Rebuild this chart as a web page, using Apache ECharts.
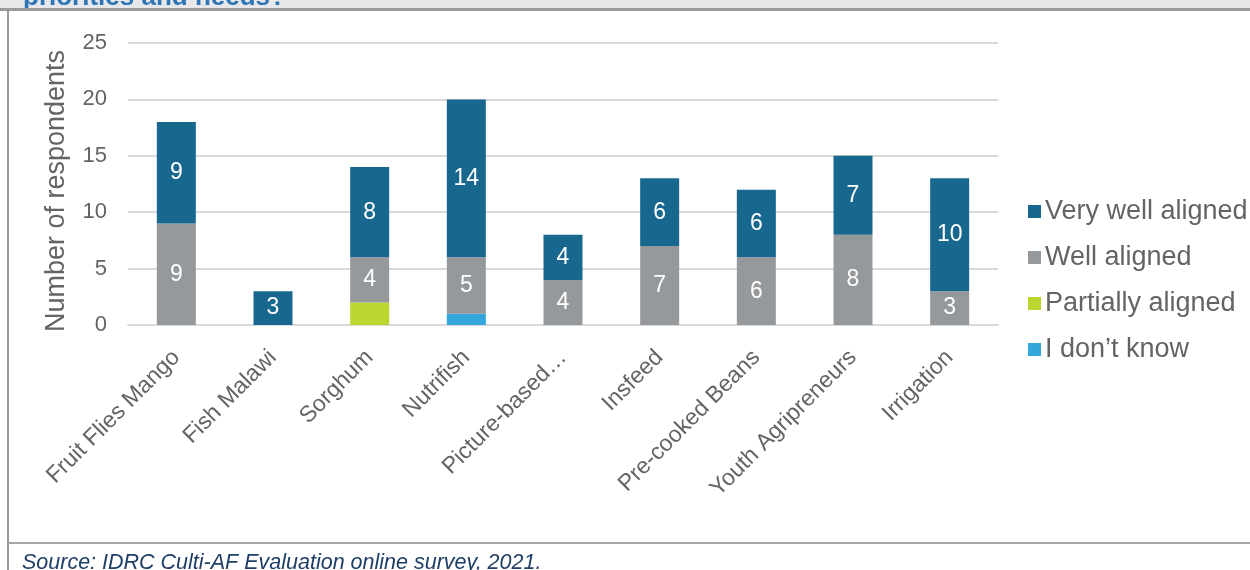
<!DOCTYPE html>
<html>
<head>
<meta charset="utf-8">
<script src="https://cdn.jsdelivr.net/npm/echarts@6/dist/echarts.min.js"></script>
<style>
  html, body { margin: 0; padding: 0; background: #fff; }
  #chart { width: 1250px; height: 570px; }
</style>
</head>
<body>
<div id="chart"></div>
<script>
// Projects surveyed
const categories = ['Fruit Flies Mango', 'Fish Malawi', 'Sorghum', 'Nutrifish', 'Picture-based\u2026',
  'Insfeed', 'Pre-cooked Beans', 'Youth Agripreneurs', 'Irrigation'];

// Respondents per alignment rating
const veryWell   = [9, 3, 8, 14, 4, 6, 6, 7, 10];
const well       = [9, 0, 4, 5, 4, 7, 6, 8, 3];
const partially  = [0, 0, 2, 0, 0, 0, 0, 0, 0];
const dontKnow   = [0, 0, 0, 1, 0, 0, 0, 0, 0];

const yTicks = [0, 5, 10, 15, 20, 25];

const FONT = '"Liberation Sans", Arial, sans-serif';
const TEXT = '#646464';

const chart = echarts.init(document.getElementById('chart'));

function seg(name, data, color, showLabel) {
  return {
    name: name,
    type: 'bar',
    stack: 'total',
    barWidth: 39,
    data: data.map(v => (v === 0 ? null : v)),
    itemStyle: { color: color },
    label: {
      show: showLabel,
      position: 'inside',
      color: '#fff',
      fontSize: 23,
      fontFamily: FONT
    },
    emphasis: { disabled: true }
  };
}

chart.setOption({
  animation: false,
  textStyle: { fontFamily: FONT },
  grid: { left: 128, right: 252, top: 43, bottom: 245, containLabel: false },
  legend: {
    orient: 'vertical',
    left: 1028,
    top: 198,
    padding: 0,
    itemWidth: 13,
    itemHeight: 13,
    itemGap: 19,
    icon: 'rect',
    data: ['Very well aligned', 'Well aligned', 'Partially aligned', 'I don\u2019t know'],
    textStyle: { color: TEXT, fontSize: 27, fontFamily: FONT, padding: [0, 0, 0, -1] }
  },
  xAxis: {
    type: 'category',
    data: categories,
    axisLine: { lineStyle: { color: '#d9d9d9', width: 2 } },
    axisTick: { show: false },
    axisLabel: {
      rotate: 45,
      interval: 0,
      color: TEXT,
      fontSize: 23,
      fontFamily: FONT,
      margin: 29
    }
  },
  yAxis: {
    type: 'value',
    min: yTicks[0],
    max: yTicks[yTicks.length - 1],
    interval: 5,
    name: 'Number of respondents',
    nameLocation: 'middle',
    nameGap: 58,
    nameTextStyle: { color: TEXT, fontSize: 27, fontFamily: FONT, padding: [0, 14, 0, 0] },
    axisLine: { show: false },
    axisTick: { show: false },
    axisLabel: { color: TEXT, fontSize: 22, fontFamily: FONT, margin: 21 },
    splitLine: { lineStyle: { color: '#d9d9d9', width: 2 } }
  },
  series: [
    seg('I don\u2019t know', dontKnow, '#33a6dc', false),
    seg('Partially aligned', partially, '#bcd630', false),
    seg('Well aligned', well, '#96999c', true),
    seg('Very well aligned', veryWell, '#18678f', true)
  ],
  graphic: [
    // header band with the tail of the heading, then the frame
    { type: 'rect', shape: { x: 0, y: 0, width: 1250, height: 8 }, style: { fill: '#e8e8ea' }, silent: true, z: 100 },
    { type: 'text', x: 23, y: -2, style: { text: 'priorities and needs?', fill: '#2e75b6',
        verticalAlign: 'middle', font: 'bold 26px "Liberation Sans", Arial, sans-serif' }, silent: true, z: 101 },
    { type: 'rect', shape: { x: 0, y: 11, width: 1250, height: 20 }, style: { fill: '#ffffff' }, silent: true, z: 102 },
    { type: 'rect', shape: { x: 0, y: 8, width: 1250, height: 3 }, style: { fill: '#9a9a9a' }, silent: true, z: 103 },
    { type: 'rect', shape: { x: 7, y: 8, width: 2, height: 562 }, style: { fill: '#9a9a9a' }, silent: true, z: 103 },
    { type: 'rect', shape: { x: 8, y: 542, width: 1242, height: 2 }, style: { fill: '#a6a6a6' }, silent: true, z: 103 },
    { type: 'text', x: 22, y: 563, style: { text: 'Source: IDRC Culti-AF Evaluation online survey, 2021.',
        fill: '#1f3f66', verticalAlign: 'middle', font: 'italic 21.5px "Liberation Sans", Arial, sans-serif' }, silent: true, z: 103 }
  ]
});
</script>
</body>
</html>
